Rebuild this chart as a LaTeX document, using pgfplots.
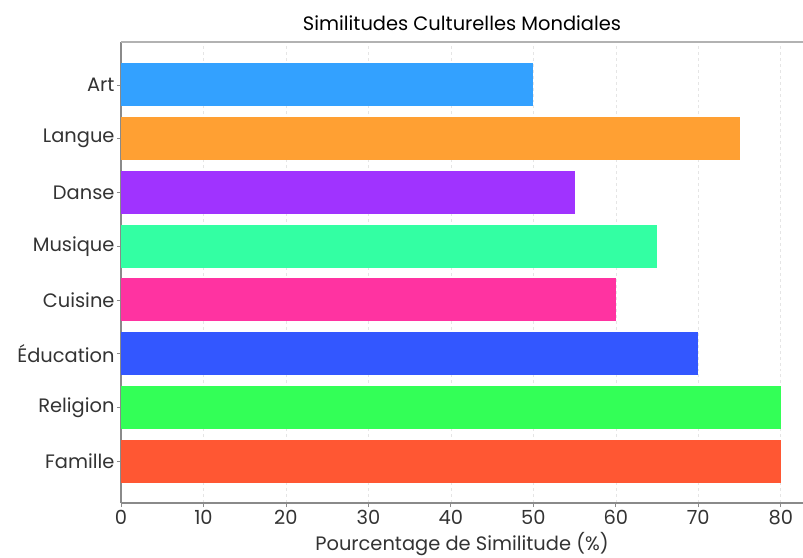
\documentclass[border=0pt]{standalone}
\usepackage{pgfplots}
\pgfplotsset{compat=1.18}
\usepackage{fontspec}
\setmainfont{Poppins}
\definecolor{cArt}{HTML}{33A1FF}
\definecolor{cLan}{HTML}{FFA033}
\definecolor{cDan}{HTML}{A033FF}
\definecolor{cMus}{HTML}{33FFA3}
\definecolor{cCui}{HTML}{FF33A1}
\definecolor{cEdu}{HTML}{3357FF}
\definecolor{cRel}{HTML}{33FF57}
\definecolor{cFam}{HTML}{FF5733}
\definecolor{txt}{HTML}{333333}
\definecolor{spine}{HTML}{8A8A8A}
\begin{document}
\begin{tikzpicture}
\begin{axis}[
    scale only axis,
    width=682bp, height=461bp,
    xmin=0, xmax=82.7,
    ymin=-0.78, ymax=7.8,
    axis lines=left,
    axis line style={-, spine, line width=1.1pt},
    xbar, bar width=0.8, bar shift=0pt,
    xtick={0,10,...,80},
    ytick={0,...,7},
    yticklabels={Famille,Religion,Éducation,Cuisine,Musique,Danse,Langue,Art},
    tick align=outside,
    major tick length=4bp,
    tick style={spine, line width=0.8pt},
    xmajorgrids,
    major grid style={gray!20, dashed, line width=0.5pt},
    ticklabel style={font=\fontsize{19.5}{22}\selectfont, text=txt},
    yticklabel style={xshift=1bp},
    /pgf/number format/assume math mode=true,
    xlabel={Pourcentage de Similitude (\%)},
    xlabel style={font=\fontsize{19.5}{22}\selectfont, text=txt, yshift=0bp},
    title={Similitudes Culturelles Mondiales},
    title style={font=\fontsize{19.5}{22}\selectfont, text=black, yshift=2bp},
]
\addplot[draw=none, fill=cFam] coordinates {(80,0)};
\addplot[draw=none, fill=cRel] coordinates {(80,1)};
\addplot[draw=none, fill=cEdu] coordinates {(70,2)};
\addplot[draw=none, fill=cCui] coordinates {(60,3)};
\addplot[draw=none, fill=cMus] coordinates {(65,4)};
\addplot[draw=none, fill=cDan] coordinates {(55,5)};
\addplot[draw=none, fill=cLan] coordinates {(75,6)};
\addplot[draw=none, fill=cArt] coordinates {(50,7)};
\draw[gray!60, line width=1.4pt] (rel axis cs:0,1) -- (rel axis cs:1,1);
\end{axis}
\pgfresetboundingbox
\path[use as bounding box] (-121bp,-55bp) rectangle (682bp,503bp);
\end{tikzpicture}
\end{document}
